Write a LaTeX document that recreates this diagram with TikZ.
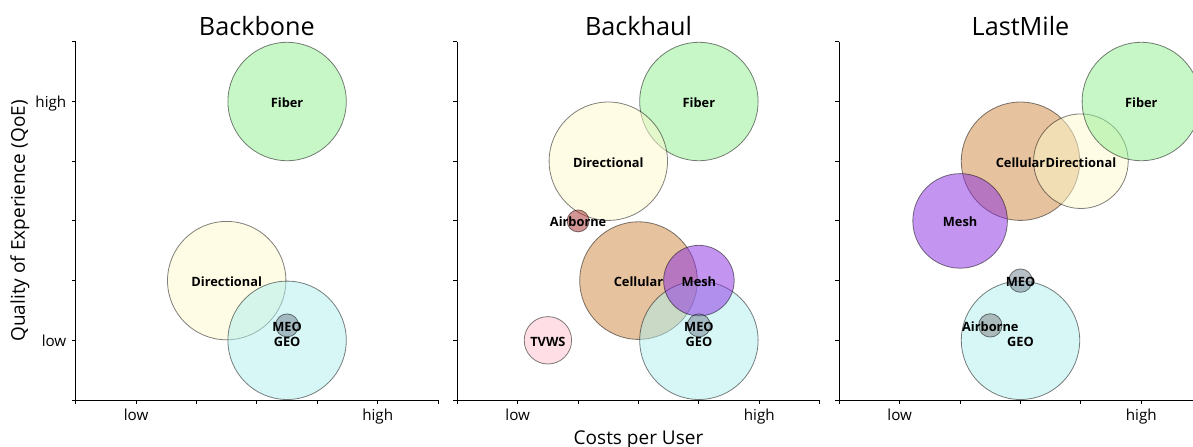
\documentclass[tikz,border=0pt]{standalone}
\usepackage{fontspec}
\setmainfont{Open Sans}
\definecolor{cfib}{HTML}{90EE90}
\definecolor{cdir}{HTML}{FFFACD}
\definecolor{cgeo}{HTML}{AFEEEE}
\definecolor{cmeo}{HTML}{708090}
\definecolor{ccell}{HTML}{CD853F}
\definecolor{cmesh}{HTML}{8A2BE2}
\definecolor{cair}{HTML}{A52A2A}
\definecolor{cairg}{HTML}{808080}
\definecolor{ctv}{HTML}{FFC0CB}
\begin{document}
\begin{tikzpicture}[
  bub/.style={circle, draw=black, draw opacity=0.5, line width=0.4pt, fill opacity=0.5, inner sep=0pt, minimum size=#1},
  lab/.style={font=\bfseries\fontsize{6.4}{7}\selectfont, inner sep=0pt, text depth=0pt, yshift=-0.6pt},
  ax/.style={line width=0.5pt, black},
  xtl/.style={font=\fontsize{7.6}{9}\selectfont, inner sep=0pt, anchor=north, yshift=-4.2pt},
  ytl/.style={font=\fontsize{7.6}{9}\selectfont, inner sep=0pt, anchor=east, xshift=-4.5pt, text depth=0pt},
  ttl/.style={font=\fontsize{12.6}{14}\selectfont, inner sep=0pt, anchor=base, yshift=3.35pt},
  axl/.style={font=\fontsize{9.5}{11}\selectfont, inner sep=0pt}
]
\useasboundingbox (0,0) rectangle (596.5pt,-223pt);

% ---------------- Panel 1: Backbone ----------------
\begin{scope}[shift={(37.85pt,-200pt)}, x=30.2pt, y=29.85pt]
  \coordinate (o1) at (0,0);
  \coordinate (xe1) at (6,0);
  \coordinate (ye1) at (0,6);
  \draw[ax] (o1) -- (xe1);
  \draw[ax] (o1) -- (ye1);
  \foreach \i in {0,...,6} {
    \draw[ax] (\i,0) -- ++(0,-2pt);
    \draw[ax] (0,\i) -- ++(-2pt,0);
  }
  \node[ttl] (t1) at (3,6) {Backbone};
  \node[xtl] (x1l) at (1,0) {low};
  \node[xtl] (x1h) at (5,0) {high};
  \node[ytl] (y1l) at (0,1) {low};
  \node[ytl] (y1h) at (0,5) {high};
  \node[axl, rotate=90] (ylab) at ([xshift=-27.85pt]0,3) {Quality of Experience (QoE)};

  \node[bub=59.2pt, fill=cfib] (b1fib) at (3.5,5) {};
  \node[bub=59.2pt, fill=cdir] (b1dir) at (2.5,2) {};
  \node[bub=59.2pt, fill=cgeo] (b1geo) at (3.5,1) {};
  \node[bub=11.5pt, fill=cmeo] (b1meo) at (3.5,1.25) {};

  \node[lab] (l1fib) at (3.5,5) {Fiber};
  \node[lab] (l1dir) at (2.5,2) {Directional};
  \node[lab] (l1geo) at (3.5,1) {GEO};
  \node[lab] (l1meo) at (3.5,1.25) {MEO};
\end{scope}

% ---------------- Panel 2: Backhaul ----------------
\begin{scope}[shift={(228.65pt,-200pt)}, x=30.2pt, y=29.85pt]
  \coordinate (o2) at (0,0);
  \coordinate (xe2) at (6,0);
  \coordinate (ye2) at (0,6);
  \draw[ax] (o2) -- (xe2);
  \draw[ax] (o2) -- (ye2);
  \foreach \i in {0,...,6} {
    \draw[ax] (\i,0) -- ++(0,-2pt);
    \draw[ax] (0,\i) -- ++(-2pt,0);
  }
  \node[ttl] (t2) at (3,6) {Backhaul};
  \node[xtl] (x2l) at (1,0) {low};
  \node[xtl] (x2h) at (5,0) {high};
  \node[axl, anchor=north, yshift=-15pt] (xlab) at (3,0) {Costs per User};

  \node[bub=59.2pt, fill=cfib] (b2fib) at (4,5) {};
  \node[bub=59.2pt, fill=cdir] (b2dir) at (2.5,4) {};
  \node[bub=11pt, fill=cair] (b2air) at (2,3) {};
  \node[bub=58.8pt, fill=ccell] (b2cell) at (3,2) {};
  \node[bub=59.2pt, fill=cgeo] (b2geo) at (4,1) {};
  \node[bub=35.3pt, fill=cmesh] (b2mesh) at (4,2) {};
  \node[bub=11.5pt, fill=cmeo] (b2meo) at (4,1.25) {};
  \node[bub=23.7pt, fill=ctv] (b2tv) at (1.5,1) {};

  \node[lab] (l2fib) at (4,5) {Fiber};
  \node[lab] (l2dir) at (2.5,4) {Directional};
  \node[lab] (l2air) at (2,3) {Airborne};
  \node[lab] (l2cell) at (3,2) {Cellular};
  \node[lab] (l2mesh) at (4,2) {Mesh};
  \node[lab] (l2geo) at (4,1) {GEO};
  \node[lab] (l2meo) at (4,1.25) {MEO};
  \node[lab] (l2tv) at (1.5,1) {TVWS};
\end{scope}

% ---------------- Panel 3: LastMile ----------------
\begin{scope}[shift={(419.65pt,-200pt)}, x=30.2pt, y=29.85pt]
  \coordinate (o3) at (0,0);
  \coordinate (xe3) at (6,0);
  \coordinate (ye3) at (0,6);
  \draw[ax] (o3) -- (xe3);
  \draw[ax] (o3) -- (ye3);
  \foreach \i in {0,...,6} {
    \draw[ax] (\i,0) -- ++(0,-2pt);
    \draw[ax] (0,\i) -- ++(-2pt,0);
  }
  \node[ttl] (t3) at (3,6) {LastMile};
  \node[xtl] (x3l) at (1,0) {low};
  \node[xtl] (x3h) at (5,0) {high};

  \node[bub=59.2pt, fill=ccell] (b3cell) at (3,4) {};
  \node[bub=47.3pt, fill=cdir] (b3dir) at (4,4) {};
  \node[bub=59.2pt, fill=cfib] (b3fib) at (5,5) {};
  \node[bub=47.3pt, fill=cmesh] (b3mesh) at (2,3) {};
  \node[bub=59.2pt, fill=cgeo] (b3geo) at (3,1) {};
  \node[bub=11.7pt, fill=cmeo] (b3meo) at (3,2) {};
  \node[bub=11.7pt, fill=cairg] (b3air) at (2.5,1.25) {};

  \node[lab] (l3fib) at (5,5) {Fiber};
  \node[lab] (l3cell) at (3,4) {Cellular};
  \node[lab] (l3dir) at (4,4) {Directional};
  \node[lab] (l3mesh) at (2,3) {Mesh};
  \node[lab] (l3meo) at (3,2) {MEO};
  \node[lab] (l3geo) at (3,1) {GEO};
  \node[lab] (l3air) at (2.5,1.25) {Airborne};
\end{scope}
\end{tikzpicture}
\end{document}
